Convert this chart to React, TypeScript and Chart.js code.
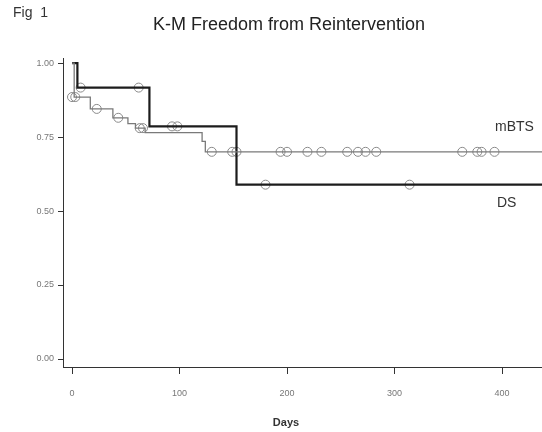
import React, { useEffect, useRef } from "react";
import { Chart, registerables } from "chart.js";

Chart.register(...registerables);

// Kaplan-Meier step data
const dsDays = [0, 5, 72, 153, 440];
const dsSurv = [1, 0.917, 0.786, 0.589, 0.589];
const mbtsDays = [0, 2, 17, 38, 52, 59, 68, 121, 124, 440];
const mbtsSurv = [1, 0.885, 0.845, 0.815, 0.795, 0.78, 0.765, 0.735, 0.7, 0.7];

// censored observations
const dsCensorDays = [8, 62, 93, 98, 180, 314];
const dsCensorSurv = [0.917, 0.917, 0.786, 0.786, 0.589, 0.589];
const mbtsCensorDays = [0, 3, 23, 43, 63, 66, 130, 149, 153, 194, 200, 219, 232, 256, 266, 273, 283, 363, 377, 381, 393];
const mbtsCensorSurv = [0.885, 0.885, 0.845, 0.815, 0.78, 0.78, 0.7, 0.7, 0.7, 0.7, 0.7, 0.7, 0.7, 0.7, 0.7, 0.7, 0.7, 0.7, 0.7, 0.7, 0.7];

const xTicks = [0, 100, 200, 300, 400];
const yTicks = [0, 0.25, 0.5, 0.75, 1];

const titleText = "K-M Freedom from Reintervention";
const figText = "Fig  1";
const xLabel = "Days";
const dsLabel = "DS";
const mbtsLabel = "mBTS";

const FONT = "'Liberation Sans', Arial, sans-serif";

const textPlugin = {
  id: "texts",
  afterDraw(chart: any) {
    const ctx = chart.ctx;
    ctx.save();
    ctx.textBaseline = "middle";
    ctx.fillStyle = "#333";
    ctx.textAlign = "left";
    ctx.font = `14px ${FONT}`;
    ctx.fillText(figText, 13, 13);
    ctx.fillStyle = "#222";
    ctx.textAlign = "center";
    ctx.font = `18px ${FONT}`;
    ctx.fillText(titleText, 289, 25);
    ctx.textAlign = "left";
    ctx.font = `14px ${FONT}`;
    ctx.fillStyle = "#333";
    ctx.fillText(mbtsLabel, 495, 127);
    ctx.fillText(dsLabel, 497, 203);
    ctx.textAlign = "center";
    ctx.font = `bold 11px ${FONT}`;
    ctx.fillText(xLabel, 286, 423);
    ctx.restore();
  },
};

export default function App() {
  const ref = useRef<HTMLCanvasElement>(null);
  useEffect(() => {
    if (!ref.current) return;
    const chart = new Chart(ref.current, {
      type: "line",
      data: {
        datasets: [
          {
            label: "mBTS",
            data: mbtsDays.map((d, i) => ({ x: d, y: mbtsSurv[i] })),
            borderColor: "#7a7a7a",
            borderWidth: 1.3,
            pointRadius: 0,
            stepped: true,
            fill: false,
          },
          {
            label: "DS",
            data: dsDays.map((d, i) => ({ x: d, y: dsSurv[i] })),
            borderColor: "#1c1c1c",
            borderWidth: 2.2,
            pointRadius: 0,
            stepped: true,
            fill: false,
          },
          {
            label: "mBTS censored",
            data: mbtsCensorDays.map((d, i) => ({ x: d, y: mbtsCensorSurv[i] })),
            showLine: false,
            pointStyle: "circle",
            pointRadius: 4.5,
            pointBorderWidth: 1,
            pointBorderColor: "#8a8a8a",
            pointBackgroundColor: "rgba(0,0,0,0)",
          },
          {
            label: "DS censored",
            data: dsCensorDays.map((d, i) => ({ x: d, y: dsCensorSurv[i] })),
            showLine: false,
            pointStyle: "circle",
            pointRadius: 4.5,
            pointBorderWidth: 1,
            pointBorderColor: "#8a8a8a",
            pointBackgroundColor: "rgba(0,0,0,0)",
          },
        ],
      },
      options: {
        responsive: false,
        animation: false,
        devicePixelRatio: 1,
        layout: { autoPadding: false, padding: { top: 58, left: 0, right: 0, bottom: 0 } },
        plugins: {
          legend: { display: false },
          tooltip: { enabled: false },
          title: { display: false },
        },
        scales: {
          x: {
            type: "linear",
            min: -8.4,
            max: 437.2,
            afterBuildTicks: (s: any) => {
              s.ticks = xTicks.map((v) => ({ value: v }));
            },
            afterFit: (s: any) => {
              s.height = 65;
              s.paddingLeft = 0;
              s.paddingRight = 0;
            },
            grid: { drawOnChartArea: false, drawTicks: true, tickLength: 7, tickColor: "#333", tickWidth: 1 },
            border: { display: true, color: "#333", width: 1 },
            ticks: {
              font: { family: FONT, size: 9 },
              color: "#777",
              padding: 14,
              maxRotation: 0,
              autoSkip: false,
              callback: (v: any) => String(v),
            },
          },
          y: {
            type: "linear",
            min: -0.027,
            max: 1.017,
            afterBuildTicks: (s: any) => {
              s.ticks = yTicks.map((v) => ({ value: v }));
            },
            afterFit: (s: any) => {
              s.width = 63;
              s.paddingTop = 0;
              s.paddingBottom = 0;
            },
            grid: { drawOnChartArea: false, drawTicks: true, tickLength: 5, tickColor: "#333", tickWidth: 1 },
            border: { display: true, color: "#333", width: 1 },
            ticks: {
              font: { family: FONT, size: 9 },
              color: "#777",
              padding: 4,
              autoSkip: false,
              callback: (v: any) => Number(v).toFixed(2),
            },
          },
        },
      },
      plugins: [textPlugin],
    } as any);
    return () => chart.destroy();
  }, []);
  return (
    <div style={{ position: "absolute", left: 0, top: 0, width: 542, height: 432, background: "#fff" }}>
      <canvas ref={ref} width={542} height={432} style={{ display: "block" }} />
    </div>
  );
}
